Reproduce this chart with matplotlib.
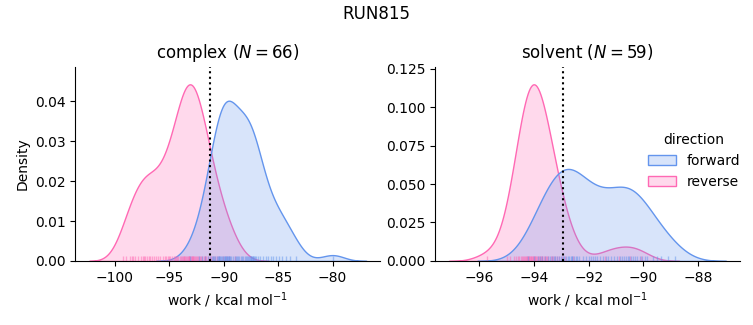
import numpy as np
import matplotlib
matplotlib.use("Agg")
import matplotlib.pyplot as plt
import matplotlib.patches as mpatches
from matplotlib.colors import to_rgba
import seaborn as sns

run_name = "RUN815"
directions = ["forward", "reverse"]
direction_colors = ["cornflowerblue", "hotpink"]

complex_forward = [
    -93.1,
    -92.3, -92.0, -91.7,
    -91.4, -91.25, -91.1, -90.95, -90.85, -90.75, -90.65, -90.55,
    -90.45, -90.4, -90.3, -90.25, -90.15, -90.1, -90.0, -89.9, -89.85, -89.75,
    -89.7, -89.65, -89.6, -89.55, -89.5,
    -89.4, -89.3, -89.15, -89.0, -88.9, -88.8, -88.65, -88.55,
    -88.45, -88.3, -88.2, -88.05, -87.95, -87.85, -87.75, -87.65,
    -87.55, -87.5, -87.45, -87.4, -87.35, -87.3, -87.2, -87.1, -87.0, -86.85, -86.7,
    -86.4, -86.15, -85.9, -85.7, -85.5,
    -85.2, -84.9, -84.6,
    -84.3, -83.9, -83.4, -80.0,
]
complex_reverse = [
    -99.2, -99.0, -98.6, -98.4,
    -98.3, -98.1, -97.9, -97.6,
    -97.4, -97.3, -97.2, -97.0, -96.9, -96.8, -96.6,
    -96.4, -96.2, -96.0, -95.8, -95.6,
    -95.4, -95.25, -95.1, -95.0, -94.9, -94.75, -94.6,
    -94.45, -94.35, -94.25, -94.15, -94.05, -93.95, -93.85, -93.75, -93.65, -93.6, -93.55,
    -93.45, -93.38, -93.3, -93.22, -93.2, -93.15, -93.08, -93.0, -92.92, -92.9,
    -92.85, -92.78, -92.7, -92.62, -92.55,
    -92.45, -92.35, -92.25, -92.15, -92.05, -91.95, -91.85, -91.75, -91.7, -91.6,
    -91.45, -91.3, -91.15, -91.0, -90.8, -90.6,
    -90.4, -90.1, -89.8, -89.5,
    -89.0,
]
solvent_forward = [
    -94.2,
    -94.0, -93.85, -93.78,
    -93.7, -93.6, -93.5, -93.42, -93.35, -93.28,
    -93.22, -93.15, -93.08, -93.01, -92.95, -92.89, -92.83, -92.77,
    -92.72, -92.66, -92.62, -92.6, -92.54, -92.48, -92.41, -92.34,
    -92.2, -92.1, -92.0, -91.92, -91.84, -91.77,
    -91.68, -91.58, -91.48, -91.38, -91.28,
    -91.18, -91.06, -90.96, -90.86, -90.77,
    -90.7, -90.62, -90.58, -90.54, -90.46, -90.38, -90.3,
    -90.22, -90.14, -90.05, -89.96, -89.87,
    -89.65, -89.5, -89.35,
    -89.1, -88.85,
]
solvent_reverse = [
    -95.7, -95.0, -94.88, -94.72, -94.67, -94.57, -94.53,
    -94.49, -94.45, -94.39, -94.36, -94.33, -94.3, -94.27, -94.25,
    -94.22, -94.19, -94.17, -94.14, -94.12, -94.1, -94.07, -94.05, -94.02,
    -94.0,
    -93.97, -93.95, -93.92, -93.89, -93.86, -93.83, -93.78, -93.75,
    -93.72, -93.69, -93.65, -93.59, -93.55, -93.51, -93.48,
    -93.39, -93.34, -93.29, -93.23, -93.16, -93.08, -92.99, -92.85, -92.58,
    -91.4, -90.9, -90.5, -90.1,
]
complex_estimate = -91.28
solvent_estimate = -92.95


def kde(samples, n_norm):
    s = np.asarray(samples)
    bw = s.std(ddof=1) * len(s) ** -0.2
    grid = np.linspace(s.min() - 3 * bw, s.max() + 3 * bw, 200)
    z = (grid[:, None] - s[None, :]) / bw
    dens = np.exp(-0.5 * z ** 2).sum(axis=1) / (n_norm * bw * np.sqrt(2 * np.pi))
    return grid, dens


def draw_phase(ax, phase, forward, reverse, estimate):
    n_norm = 4 * len(forward)
    peak = 0
    for samples, color in zip([reverse, forward], direction_colors[::-1]):
        grid, dens = kde(samples, n_norm)
        ax.fill_between(grid, 0, dens, facecolor=to_rgba(color, 0.25),
                        edgecolor=color, linewidth=1)
        sns.rugplot(x=samples, ax=ax, color=color, alpha=0.5)
        peak = max(peak, dens.max())
    ax.axvline(estimate, color="k", linestyle=":")
    ax.set_ylim(0, peak * 1.1)
    ax.set_title(f"{phase} ($N={len(forward)}$)")
    ax.set_xlabel("work / kcal mol$^{-1}$")
    sns.despine(ax=ax)


fig = plt.figure(figsize=(7.53, 3.25), dpi=100)
ax1 = fig.add_axes([0.1, 0.197, 0.405, 0.598])
ax2 = fig.add_axes([0.5777, 0.197, 0.405, 0.598])

draw_phase(ax1, "complex", complex_forward, complex_reverse, complex_estimate)
draw_phase(ax2, "solvent", solvent_forward, solvent_reverse, solvent_estimate)
ax1.set_ylabel("Density")

fig.suptitle(run_name, y=0.985)

handles = [mpatches.Patch(facecolor=to_rgba(c, 0.25), edgecolor=c, linewidth=1, label=d)
           for d, c in zip(directions, direction_colors)]
fig.legend(handles=handles, title="direction", loc="center right",
           bbox_to_anchor=(1.0, 0.505), frameon=False)

fig.savefig("out.png", dpi=100)
